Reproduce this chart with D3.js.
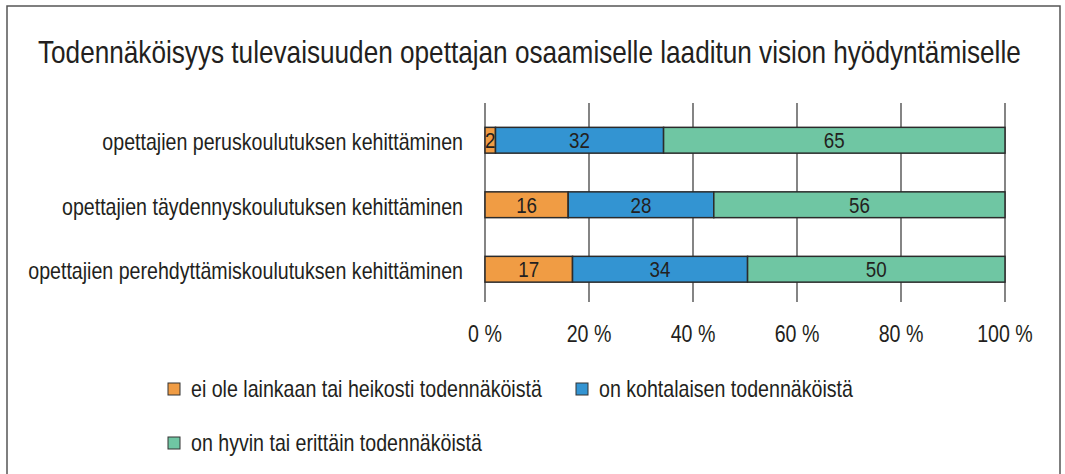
<!DOCTYPE html>
<html>
<head>
<script src="https://d3js.org/d3.v7.min.js"></script>
<style>
  body { margin: 0; background: #fff; }
  text { font-family: "Liberation Sans Narrow", "Arial Narrow", "Liberation Sans", Arial, sans-serif; fill: #231f20; }
</style>
</head>
<body>
<script>
// data
var categories = [
  "opettajien peruskoulutuksen kehittäminen",
  "opettajien täydennyskoulutuksen kehittäminen",
  "opettajien perehdyttämiskoulutuksen kehittäminen"
];
var seriesNames = [
  "ei ole lainkaan tai heikosti todennäköistä",
  "on kohtalaisen todennäköistä",
  "on hyvin tai erittäin todennäköistä"
];
var seriesColors = ["#f09c44", "#3394d2", "#6fc6a3"];
var lowValues = [2, 16, 17];
var midValues = [32, 28, 34];
var highValues = [65, 56, 50];
var tickValues = [0, 20, 40, 60, 80, 100];

var width = 1065, height = 474;
var svg = d3.select("body").append("svg")
  .attr("width", width).attr("height", height);

// squeeze text horizontally (the original uses a narrow font)
function squeeze(sel, k) {
  sel.each(function () {
    var t = d3.select(this);
    t.attr("x", +t.attr("x") / k).attr("transform", "scale(" + k + ",1)");
  });
}

// frame
svg.append("rect")
  .attr("x", 7).attr("y", 6).attr("width", 1053).attr("height", 480)
  .attr("fill", "none").attr("stroke", "#555").attr("stroke-width", 1.5);

var title = svg.append("text")
  .attr("x", 38).attr("y", 63)
  .style("font-size", "32px")
  .text("Todennäköisyys tulevaisuuden opettajan osaamiselle laaditun vision hyödyntämiselle");
squeeze(title, 983 / title.node().getComputedTextLength());

var x = d3.scaleLinear().domain([0, 100]).range([485, 1005]);
var y = d3.scaleBand().domain(categories).range([108, 301.5]).paddingInner(0.6).paddingOuter(0.3);

// gridlines
svg.append("g").selectAll("line")
  .data(tickValues)
  .enter().append("line")
  .attr("x1", function (d) { return x(d); })
  .attr("x2", function (d) { return x(d); })
  .attr("y1", 103).attr("y2", 302)
  .attr("stroke", "#666").attr("stroke-width", 1.6);

// stack, normalised to 100 %
var rows = categories.map(function (c, i) {
  return { cat: c, vals: [lowValues[i], midValues[i], highValues[i]] };
});
var segs = [];
rows.forEach(function (r) {
  var total = d3.sum(r.vals), acc = 0;
  r.vals.forEach(function (v, k) {
    segs.push({ cat: r.cat, k: k, v: v, x0: acc / total * 100, x1: (acc + v) / total * 100 });
    acc += v;
  });
});

// category labels (used to find the squeeze factor)
var catLabels = svg.append("g").selectAll("text")
  .data(categories)
  .enter().append("text")
  .attr("x", 463)
  .attr("y", function (d) { return y(d) + y.bandwidth() / 2 + 10; })
  .attr("text-anchor", "end")
  .style("font-size", "23px")
  .text(function (d) { return d; });
var k = 435 / catLabels.nodes()[2].getComputedTextLength();
squeeze(catLabels, k);

var bars = svg.append("g");
bars.selectAll("rect")
  .data(segs)
  .enter().append("rect")
  .attr("x", function (d) { return x(d.x0); })
  .attr("width", function (d) { return x(d.x1) - x(d.x0); })
  .attr("y", function (d) { return y(d.cat); })
  .attr("height", y.bandwidth())
  .attr("fill", function (d) { return seriesColors[d.k]; })
  .attr("stroke", "#2b2b2b").attr("stroke-width", 1.5);

var valLabels = bars.selectAll("text")
  .data(segs)
  .enter().append("text")
  .attr("x", function (d) { return (x(d.x0) + x(d.x1)) / 2; })
  .attr("y", function (d) { return y(d.cat) + y.bandwidth() / 2 + 8; })
  .attr("text-anchor", "middle")
  .style("font-size", "22px")
  .text(function (d) { return d.v; });
squeeze(valLabels, k);

// x axis labels
var tickLabels = svg.append("g").selectAll("text")
  .data(tickValues)
  .enter().append("text")
  .attr("x", function (d) { return x(d); })
  .attr("y", 342)
  .attr("text-anchor", "middle")
  .style("font-size", "23px")
  .text(function (d) { return d + " %"; });
squeeze(tickLabels, k);

// legend
var legendPos = [[168, 383], [576, 383], [168, 437]];
var legend = svg.append("g").selectAll("g")
  .data(seriesNames)
  .enter().append("g")
  .attr("transform", function (d, i) { return "translate(" + legendPos[i][0] + "," + legendPos[i][1] + ")"; });
legend.append("rect")
  .attr("x", 0).attr("y", 0).attr("width", 12).attr("height", 12)
  .attr("fill", function (d, i) { return seriesColors[i]; })
  .attr("stroke", "#333").attr("stroke-width", 1);
var legText = legend.append("text")
  .attr("x", 23).attr("y", 14)
  .style("font-size", "23px")
  .text(function (d) { return d; });
squeeze(legText, k);
</script>
</body>
</html>
